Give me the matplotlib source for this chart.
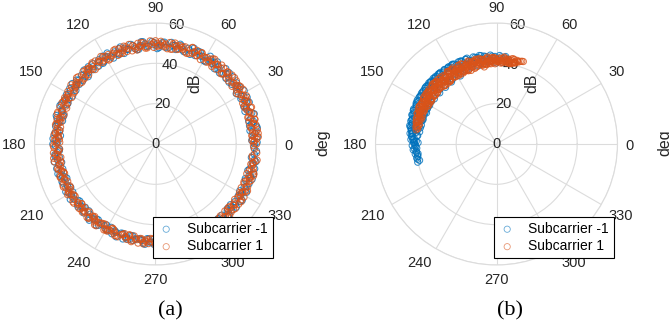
import matplotlib
matplotlib.use("Agg")
import matplotlib.pyplot as plt
import numpy as np

plt.rcParams['font.family'] = ['Liberation Sans', 'DejaVu Sans']

# ---------------- data (degrees, dB) ----------------
A_BLUE_TH = [
    0, 2, 4, 7, 9, 11, 13, 15, 18, 20,
    22, 24, 26, 28, 31, 33, 35, 37, 40, 42,
    44, 46, 48, 51, 53, 55, 57, 59, 62, 64,
    66, 68, 70, 73, 75, 77, 79, 81, 84, 86,
    88, 90, 92, 95, 97, 99, 101, 103, 106, 108,
    110, 112, 114, 117, 119, 121, 123, 125, 128, 130,
    132, 134, 136, 139, 141, 143, 145, 147, 150, 152,
    154, 156, 158, 161, 163, 165, 167, 169, 172, 174,
    176, 178, 180, 183, 185, 187, 189, 191, 194, 196,
    198, 200, 202, 205, 207, 209, 211, 213, 216, 218,
    220, 222, 224, 227, 229, 231, 233, 235, 238, 240,
    242, 244, 246, 249, 251, 253, 255, 257, 260, 262,
    264, 266, 268, 271, 273, 275, 277, 279, 282, 284,
    286, 288, 290, 293, 295, 297, 299, 301, 304, 306,
    308, 310, 312, 315, 317, 319, 321, 323, 326, 328,
    330, 332, 334, 337, 339, 341, 343, 345, 348, 350,
    352, 354, 356, 358]
A_BLUE_R = [
    49.2, 47.8, 50.6, 48.4, 51.1, 47.5, 49.9, 48.9, 50.2, 47.2,
    48.6, 50.9, 49.4, 47.9, 51.3, 48.1, 49.7, 50.4, 47.6, 49.0,
    50.8, 48.3, 47.4, 49.6, 51.0, 48.7, 50.1, 47.7, 49.3, 50.7,
    48.0, 51.2, 49.5, 47.9, 50.3, 48.5, 49.8, 51.0, 48.2, 50.5,
    47.8, 49.1, 50.9, 48.6, 51.1, 49.4, 47.6, 50.2, 48.8, 49.9,
    51.2, 47.9, 50.0, 48.4, 49.6, 50.8, 47.7, 49.2, 50.5, 48.1,
    49.7, 51.0, 48.3, 47.8, 50.4, 49.0, 48.6, 50.7, 47.5, 49.5,
    50.1, 48.0, 51.1, 49.3, 47.6, 50.6, 48.7, 49.8, 47.9, 50.3,
    48.2, 49.4, 50.9, 47.7, 48.8, 50.2, 49.1, 47.4, 50.5, 48.5,
    49.9, 47.8, 50.0, 48.3, 47.2, 49.6, 48.6, 50.4, 47.5, 49.0,
    48.1, 46.9, 49.3, 47.6, 50.1, 48.4, 47.1, 49.2, 47.8, 48.9,
    46.8, 49.5, 48.0, 47.3, 49.8, 48.6, 47.0, 49.1, 47.7, 48.3,
    50.0, 47.2, 48.8, 49.4, 47.5, 48.2, 50.2, 46.9, 49.0, 48.5,
    47.4, 49.7, 48.1, 50.3, 47.6, 49.2, 48.7, 50.6, 47.9, 49.4,
    50.8, 48.3, 49.9, 51.0, 48.6, 50.1, 47.8, 49.6, 50.7, 48.4,
    49.1, 51.1, 48.9, 50.4, 47.7, 49.8, 50.9, 48.2, 49.5, 50.6,
    48.0, 49.3, 50.2, 48.8]
A_BLUE_TH2 = [
    1, 3, 6, 8, 10, 12, 14, 17, 19, 21,
    23, 25, 27, 29, 32, 34, 36, 38, 41, 43,
    45, 47, 50, 52, 54, 56, 58, 60, 63, 65,
    67, 69, 71, 74, 76, 78, 80, 82, 85, 87,
    89, 91, 94, 96, 98, 100, 102, 104, 107, 109,
    111, 113, 116, 118, 120, 122, 124, 126, 129, 131,
    133, 135, 137, 140, 142, 144, 146, 148, 151, 153,
    155, 157, 160, 162, 164, 166, 168, 170, 173, 175,
    177, 179, 181, 184, 186, 188, 190, 192, 195, 197,
    199, 201, 203, 206, 208, 210, 212, 214, 217, 219,
    221, 223, 225, 228, 230, 232, 234, 236, 239, 241,
    243, 245, 247, 250, 252, 254, 256, 258, 261, 263,
    265, 267, 269, 272, 274, 276, 278, 280, 283, 285,
    287, 289, 291, 294, 296, 298, 300, 302, 305, 307,
    309, 311, 313, 316, 318, 320, 322, 324, 327, 329,
    331, 333, 335, 338, 340, 342, 344, 346, 349, 351]
A_BLUE_R2 = [
    50.4, 48.1, 49.7, 47.3, 50.9, 48.8, 47.6, 51.2, 49.0, 48.3,
    47.5, 49.8, 51.0, 48.6, 47.2, 50.5, 49.3, 48.0, 50.8, 47.7,
    49.5, 51.1, 48.2, 47.4, 50.0, 49.1, 51.3, 47.8, 48.9, 50.6,
    49.4, 47.6, 50.2, 48.5, 51.0, 47.9, 49.6, 48.4, 50.7, 49.2,
    47.3, 50.3, 48.7, 49.9, 51.2, 47.7, 48.3, 50.9, 49.0, 47.5,
    50.6, 48.9, 47.4, 51.1, 49.7, 48.1, 50.4, 47.8, 49.3, 50.8,
    48.6, 47.2, 50.1, 49.5, 48.0, 51.0, 47.6, 49.8, 50.5, 48.4,
    47.9, 50.7, 49.1, 48.2, 51.2, 47.5, 49.4, 50.3, 48.8, 47.3,
    50.9, 48.5, 49.6, 47.8, 50.2, 48.0, 51.0, 49.2, 47.6, 50.6,
    48.7, 47.1, 49.8, 48.3, 50.4, 47.4, 49.0, 48.6, 47.0, 49.5,
    47.7, 48.9, 46.8, 49.4, 48.2, 47.3, 49.9, 48.0, 46.9, 49.1,
    48.5, 47.5, 50.0, 47.2, 48.7, 49.3, 46.9, 48.4, 47.8, 49.6,
    47.1, 48.8, 49.7, 47.4, 48.1, 46.8, 49.2, 48.6, 47.6, 50.1,
    48.3, 47.0, 49.5, 48.9, 47.3, 49.8, 48.0, 47.7, 50.3, 48.5,
    49.9, 51.1, 48.2, 50.5, 47.9, 49.0, 50.9, 48.6, 51.3, 49.4,
    47.8, 50.2, 49.6, 48.1, 51.0, 49.3, 47.6, 50.7, 48.8, 49.7]

A_ORANGE_TH = [
    1, 3, 5, 6, 8, 10, 12, 14, 16, 19,
    21, 23, 25, 27, 30, 32, 34, 36, 38, 41,
    43, 45, 47, 50, 52, 54, 56, 58, 61, 63,
    65, 67, 69, 72, 74, 76, 78, 80, 83, 85,
    87, 89, 91, 94, 96, 98, 100, 102, 105, 107,
    109, 111, 113, 116, 118, 120, 122, 124, 127, 129,
    131, 133, 135, 138, 140, 142, 144, 146, 149, 151,
    153, 155, 157, 160, 162, 164, 166, 168, 171, 173,
    175, 177, 179, 182, 184, 186, 188, 190, 193, 195,
    197, 199, 201, 204, 206, 208, 210, 212, 215, 217,
    219, 221, 223, 226, 228, 230, 232, 234, 237, 239,
    241, 243, 245, 248, 250, 252, 254, 256, 259, 261,
    263, 265, 267, 270, 272, 274, 276, 278, 281, 283,
    285, 287, 289, 292, 294, 296, 298, 300, 303, 305,
    307, 309, 311, 314, 316, 318, 320, 322, 325, 327,
    329, 331, 333, 336, 338, 340, 342, 344, 347, 349,
    351, 353, 355, 357, 359]
A_ORANGE_R = [
    48.7, 50.3, 47.9, 49.6, 51.0, 48.2, 49.9, 50.7, 47.6, 49.3,
    50.5, 48.8, 47.7, 50.1, 49.0, 51.2, 48.4, 49.7, 50.9, 47.8,
    49.4, 50.6, 48.1, 51.1, 49.8, 47.5, 50.2, 48.9, 49.5, 50.8,
    48.3, 49.1, 51.3, 47.9, 50.0, 48.6, 49.8, 50.4, 47.6, 49.2,
    51.0, 48.5, 50.3, 49.7, 47.8, 50.9, 48.7, 49.3, 51.1, 48.0,
    49.9, 50.6, 47.7, 49.0, 50.2, 48.4, 51.2, 49.6, 47.9, 50.5,
    48.8, 49.4, 50.8, 48.1, 47.6, 50.0, 49.2, 48.6, 50.7, 47.5,
    49.8, 50.3, 48.2, 49.5, 51.0, 47.8, 48.9, 50.1, 49.3, 48.0,
    50.6, 47.7, 49.1, 50.4, 48.5, 49.7, 47.4, 50.9, 48.3, 49.0,
    47.6, 49.8, 48.4, 50.2, 47.3, 48.9, 49.5, 47.8, 50.0, 48.1,
    47.0, 49.2, 48.6, 46.9, 49.7, 47.5, 48.2, 50.1, 47.2, 48.8,
    49.4, 46.8, 48.0, 49.6, 47.6, 48.5, 47.1, 49.9, 48.3, 47.4,
    49.0, 48.7, 46.9, 50.2, 47.8, 49.3, 48.1, 47.3, 49.8, 48.6,
    50.4, 47.7, 49.1, 48.4, 50.7, 47.9, 49.6, 48.8, 50.3, 49.2,
    47.8, 50.9, 48.5, 49.9, 51.1, 48.2, 50.5, 49.4, 47.9, 50.8,
    48.7, 49.5, 51.2, 48.0, 50.1, 49.7, 47.6, 50.6, 48.9, 49.3,
    51.0, 48.3, 50.4, 49.1, 48.6]
A_ORANGE_TH2 = [
    0, 2, 4, 6, 9, 11, 13, 15, 17, 20,
    22, 24, 26, 28, 31, 33, 35, 37, 39, 42,
    44, 46, 48, 51, 53, 55, 57, 59, 62, 64,
    66, 68, 70, 73, 75, 77, 79, 81, 84, 86,
    88, 90, 92, 95, 97, 99, 101, 103, 106, 108,
    110, 112, 114, 117, 119, 121, 123, 125, 128, 130,
    132, 134, 136, 139, 141, 143, 145, 147, 150, 152,
    154, 156, 158, 161, 163, 165, 167, 169, 172, 174,
    176, 178, 180, 183, 185, 187, 189, 191, 194, 196,
    198, 200, 202, 205, 207, 209, 211, 213, 216, 218,
    220, 222, 224, 227, 229, 231, 233, 235, 238, 240,
    242, 244, 246, 249, 251, 253, 255, 257, 260, 262,
    264, 266, 268, 271, 273, 275, 277, 279, 282, 284,
    286, 288, 290, 293, 295, 297, 299, 301, 304, 306,
    308, 310, 312, 315, 317, 319, 321, 323, 326, 328,
    330, 332, 334, 337, 339, 341, 343, 345, 348, 350]
A_ORANGE_R2 = [
    50.1, 47.9, 49.4, 51.2, 48.3, 50.6, 47.6, 49.0, 50.9, 48.5,
    47.8, 50.3, 49.1, 51.0, 48.0, 49.7, 50.5, 47.5, 48.8, 51.1,
    49.9, 48.2, 50.7, 47.7, 49.5, 51.3, 48.6, 50.0, 47.4, 49.2,
    50.8, 48.4, 47.9, 50.4, 49.6, 48.1, 51.0, 47.6, 49.8, 50.2,
    48.7, 51.2, 49.3, 47.8, 50.6, 48.9, 47.5, 50.1, 49.4, 51.0,
    47.9, 48.5, 50.9, 49.0, 47.6, 50.4, 48.2, 49.7, 51.1, 48.6,
    50.3, 47.7, 49.5, 50.8, 48.0, 49.2, 51.2, 47.8, 50.0, 48.4,
    49.6, 50.7, 47.5, 48.9, 51.0, 49.3, 48.1, 50.5, 47.9, 49.8,
    48.3, 50.2, 49.0, 47.6, 50.8, 48.7, 49.4, 47.7, 50.1, 48.5,
    47.4, 49.9, 48.2, 50.4, 47.3, 49.1, 48.8, 47.5, 50.0, 48.4,
    49.6, 47.1, 48.6, 49.8, 47.4, 48.0, 50.2, 47.8, 46.9, 49.3,
    48.5, 47.2, 49.7, 48.1, 47.0, 49.4, 48.8, 46.8, 49.9, 47.6,
    48.3, 49.5, 47.3, 48.9, 50.1, 47.7, 48.2, 49.2, 46.9, 48.7,
    47.9, 50.3, 48.4, 49.0, 47.6, 50.5, 48.6, 49.7, 47.8, 50.0,
    49.2, 51.1, 48.0, 50.6, 49.5, 47.9, 50.9, 48.7, 51.2, 49.4,
    48.1, 50.4, 49.8, 47.7, 50.7, 48.9, 51.0, 49.1, 48.3, 50.2]
A_ORANGE_TH3 = [
    2, 4, 5, 7, 10, 12, 14, 16, 18, 21,
    23, 25, 27, 29, 32, 34, 36, 38, 40, 43,
    45, 47, 49, 52, 54, 56, 58, 60, 63, 65,
    67, 69, 71, 74, 76, 78, 80, 82, 85, 87,
    89, 91, 93, 96, 98, 100, 102, 104, 107, 109,
    111, 113, 115, 118, 120, 122, 124, 126, 129, 131,
    133, 135, 137, 140, 142, 144, 146, 148, 151, 153,
    155, 157, 159, 162, 164, 166, 168, 170, 173, 175,
    177, 179, 181, 184, 186, 188, 190, 192, 195, 197,
    199, 201, 203, 206, 208, 210, 212, 214, 217, 219,
    221, 223, 225, 228, 230, 232, 234, 236, 239, 241,
    243, 245, 247, 250, 252, 254, 256, 258, 261, 263,
    265, 267, 269, 272, 274, 276, 278, 280, 283, 285,
    287, 289, 291, 294, 296, 298, 300, 302, 305, 307,
    309, 311, 313, 316, 318, 320, 322, 324, 327, 329,
    331, 333, 335, 338, 340, 342, 344, 346, 349, 352]
A_ORANGE_R3 = [
    49.0, 51.1, 48.4, 50.2, 47.7, 49.6, 50.8, 48.1, 49.3, 51.0,
    47.9, 50.5, 48.6, 49.8, 47.4, 50.9, 48.8, 49.2, 51.2, 48.0,
    50.4, 47.6, 49.7, 50.1, 48.5, 51.0, 47.8, 49.4, 50.6, 48.3,
    49.9, 51.1, 47.5, 48.9, 50.3, 49.5, 47.7, 50.8, 48.4, 49.1,
    50.0, 47.9, 51.2, 48.6, 49.4, 50.7, 48.2, 47.6, 50.4, 49.0,
    48.1, 51.0, 49.6, 47.8, 50.2, 48.7, 49.3, 50.9, 47.5, 49.9,
    50.5, 48.3, 47.9, 51.1, 49.2, 48.5, 50.1, 47.7, 49.7, 50.6,
    48.0, 49.4, 50.8, 47.6, 48.8, 50.3, 49.1, 47.8, 50.0, 48.6,
    49.5, 47.5, 50.7, 48.2, 49.0, 51.0, 47.9, 48.7, 49.8, 47.6,
    50.1, 48.4, 47.3, 49.5, 48.0, 50.3, 47.7, 49.1, 48.5, 47.2,
    48.3, 49.6, 47.5, 48.8, 46.9, 49.0, 48.2, 47.4, 49.7, 48.6,
    47.1, 48.9, 49.5, 47.7, 48.4, 46.8, 49.3, 47.9, 48.1, 49.9,
    47.6, 48.5, 47.0, 49.2, 48.8, 47.3, 48.0, 49.8, 47.5, 48.7,
    49.4, 47.9, 50.2, 48.3, 49.1, 47.6, 50.0, 48.9, 49.5, 50.6,
    48.4, 51.0, 49.7, 47.8, 50.5, 48.1, 49.2, 50.9, 48.6, 51.2,
    49.0, 47.7, 50.4, 48.8, 49.6, 51.1, 48.2, 50.0, 49.3, 48.5]

B_BLUE_TH = [
    82, 84, 86, 87, 89, 90, 92, 93, 95, 96,
    98, 99, 100, 102, 103, 104, 106, 107, 108, 110,
    111, 112, 113, 115, 116, 117, 118, 120, 121, 122,
    123, 124, 126, 127, 128, 129, 130, 131, 133, 134,
    135, 136, 137, 138, 139, 140, 141, 143, 144, 145,
    146, 147, 148, 149, 150, 151, 152, 153, 154, 155,
    156, 157, 158, 159, 160, 161, 162, 163, 164, 165,
    166, 167, 168, 169, 170, 171, 172, 173, 174, 175,
    176, 177, 178, 179, 180, 181, 182, 183, 184, 186,
    187, 188, 190, 191, 193,
    101, 109, 119, 125, 132, 142, 147, 153, 158, 163,
    168, 173, 177, 179, 171, 166, 161, 156, 151, 138]
B_BLUE_R = [
    41.5, 42.8, 40.6, 43.2, 41.9, 40.2, 42.5, 43.6, 41.0, 42.1,
    44.0, 40.4, 42.9, 43.8, 39.8, 44.3, 41.6, 43.1, 40.0, 44.6,
    42.3, 39.5, 44.8, 41.2, 43.7, 39.2, 44.9, 42.0, 40.1, 45.0,
    43.4, 38.9, 44.7, 41.8, 39.6, 45.1, 42.6, 38.8, 44.5, 40.7,
    43.9, 39.0, 45.0, 41.4, 38.7, 44.4, 42.2, 39.3, 44.8, 40.5,
    43.5, 38.8, 44.6, 41.1, 39.4, 44.9, 42.4, 38.6, 44.2, 40.3,
    43.8, 39.1, 44.5, 41.7, 38.9, 44.1, 42.7, 39.5, 43.6, 40.8,
    42.9, 39.2, 43.4, 41.3, 39.7, 42.6, 40.4, 41.9, 39.6, 42.3,
    40.9, 41.6, 39.8, 41.2, 40.5, 41.8, 40.0, 40.9, 41.4, 39.9,
    40.6, 39.5, 40.2, 39.8, 40.1,
    44.7, 45.0, 45.2, 44.9, 45.1, 45.0, 38.6, 38.5, 38.7, 38.8,
    44.0, 43.2, 42.5, 38.9, 38.6, 38.4, 38.5, 38.7, 38.6, 45.2]
B_BLUE_TH2 = [
    84, 88, 91, 94, 97, 100, 103, 105, 108, 110,
    113, 115, 117, 119, 121, 123, 125, 127, 129, 131,
    133, 135, 137, 139, 141, 143, 145, 147, 149, 151,
    153, 155, 157, 159, 161, 163, 165, 167, 169, 171,
    173, 175, 177, 179, 181, 183, 185, 187, 189, 192,
    114, 122, 128, 134, 140, 146, 152, 158, 164, 170,
    118, 126, 132, 138, 144, 150, 156, 162, 168, 174,
    120, 130, 136, 142, 148, 154, 160, 166, 172, 178]
B_BLUE_R2 = [
    43.6, 43.9, 43.4, 44.2, 43.7, 44.5, 43.9, 44.7, 43.6, 44.8,
    44.4, 44.9, 44.0, 45.0, 44.5, 44.8, 45.1, 44.2, 44.9, 44.6,
    45.0, 44.3, 44.9, 44.6, 45.1, 44.2, 44.9, 44.5, 44.8, 44.1,
    44.7, 43.9, 44.6, 43.7, 44.4, 43.4, 44.0, 43.0, 43.5, 42.8,
    42.4, 41.9, 41.2, 40.8, 40.3, 39.6, 40.0, 39.2, 39.5, 39.0,
    44.8, 45.0, 45.1, 45.2, 45.0, 44.9, 44.6, 44.2, 43.7, 42.9,
    38.2, 38.0, 37.8, 37.9, 38.1, 38.3, 38.0, 38.4, 38.6, 39.3,
    44.9, 45.1, 45.0, 44.9, 44.7, 44.3, 43.9, 43.2, 42.0, 40.6]

B_ORANGE_TH = [
    72, 74, 76, 77, 78, 79, 80, 81, 82, 83,
    84, 85, 86, 87, 88, 89, 90, 91, 92, 93,
    94, 95, 96, 97, 98, 99, 100, 101, 102, 103,
    104, 105, 106, 107, 108, 109, 110, 111, 112, 113,
    114, 115, 116, 117, 118, 119, 120, 121, 122, 123,
    124, 125, 126, 127, 128, 129, 130, 131, 132, 133,
    134, 135, 136, 137, 138, 139, 140, 141, 142, 143,
    144, 145, 146, 147, 148, 149, 150, 151, 152, 153,
    154, 155, 156, 157, 158, 159, 160, 161, 162, 163,
    164, 165, 166, 167, 168, 169, 170,
    80, 85, 90, 95, 100, 105, 110, 115, 120, 125,
    130, 135, 140, 145, 150, 155, 160, 83, 93, 103,
    113, 123, 133, 143, 153, 88, 98, 108, 118, 128,
    138, 148, 158]
B_ORANGE_R = [
    43.0, 42.6, 42.2, 41.4, 42.8, 40.9, 42.0, 41.2, 42.5, 40.6,
    41.8, 42.9, 40.4, 41.6, 42.3, 40.8, 41.9, 42.7, 40.3, 41.5,
    42.4, 40.1, 41.3, 42.8, 39.9, 41.7, 42.6, 40.2, 41.1, 43.0,
    39.7, 41.9, 42.5, 40.0, 41.4, 43.1, 39.5, 42.2, 40.6, 42.9,
    39.3, 41.6, 43.2, 40.1, 42.0, 39.2, 42.7, 41.0, 39.6, 43.1,
    40.4, 42.3, 39.1, 41.8, 43.0, 39.8, 41.2, 42.6, 39.0, 42.1,
    40.7, 43.2, 39.4, 41.5, 42.8, 39.0, 41.9, 40.3, 42.5, 39.3,
    41.1, 42.9, 39.5, 40.8, 42.3, 39.2, 41.6, 42.0, 39.7, 41.0,
    42.4, 39.4, 40.9, 41.8, 39.6, 42.0, 40.5, 41.2, 39.3, 41.5,
    40.2, 41.0, 39.5, 40.7, 40.0, 39.8, 40.4,
    40.5, 41.2, 40.8, 41.6, 40.0, 42.0, 40.9, 39.8, 41.4, 40.6,
    41.1, 39.9, 40.7, 41.3, 40.2, 40.8, 40.6, 42.1, 41.0, 40.5,
    41.7, 39.6, 40.4, 42.2, 39.9, 41.3, 40.3, 42.4, 39.9, 41.5,
    40.1, 42.6, 41.2]
B_ORANGE_TH2 = [
    76, 78, 79, 81, 82, 84, 85, 87, 88, 90,
    91, 93, 94, 96, 97, 99, 100, 102, 103, 105,
    106, 108, 109, 111, 112, 114, 115, 117, 118, 120,
    121, 123, 124, 126, 127, 129, 130, 132, 133, 135,
    136, 138, 139, 141, 142, 144, 145, 147, 148, 150,
    151, 153, 154, 156, 157, 159, 160, 162, 163, 165,
    166, 168,
    99, 104, 109, 114, 119, 124, 129, 134, 139, 144,
    149, 154, 101, 111, 121, 131, 141, 151, 96, 106,
    116, 126, 136, 146, 156, 92, 117, 137, 122, 142,
    127, 132, 147, 152, 107, 112]
B_ORANGE_R2 = [
    42.7, 41.3, 43.1, 40.5, 42.2, 41.0, 43.3, 40.2, 42.6, 41.7,
    39.8, 42.9, 41.1, 43.4, 40.0, 42.4, 39.6, 43.2, 41.5, 39.4,
    42.8, 40.7, 43.5, 39.2, 41.9, 43.3, 38.9, 42.1, 40.3, 43.6,
    39.0, 41.6, 43.4, 38.8, 42.5, 40.1, 43.2, 38.7, 41.8, 42.9,
    39.3, 43.1, 40.6, 38.8, 42.7, 41.2, 39.1, 43.0, 40.4, 42.3,
    38.9, 41.4, 42.6, 39.5, 40.8, 42.2, 39.2, 41.7, 40.0, 41.3,
    39.6, 40.9,
    38.7, 43.3, 38.6, 43.5, 38.8, 43.4, 38.6, 43.2, 38.9, 42.9,
    38.7, 42.6, 43.0, 38.9, 43.3, 38.5, 43.1, 38.8, 42.8, 39.0,
    43.4, 38.6, 43.2, 38.7, 42.5, 43.0, 38.9, 43.6, 39.1, 38.8,
    38.6, 43.3, 38.7, 42.4, 41.0, 40.5]
B_ORANGE_TH3 = [
    73, 75, 78, 80, 83, 86, 89, 92, 95, 98,
    101, 104, 107, 110, 113, 116, 119, 122, 125, 128,
    131, 134, 137, 140, 143, 146, 149, 152, 155, 158,
    161, 164, 167,
    77, 81, 87, 91, 97, 102, 106, 112, 117, 121,
    126, 131, 136, 141, 146, 151, 156, 161,
    84, 94, 104, 114, 124, 134, 144, 154,
    79, 89, 99, 109, 119, 129, 139, 149, 159,
    82, 100, 118, 136, 154, 110, 130, 150]
B_ORANGE_R3 = [
    42.9, 42.1, 41.6, 42.8, 41.4, 42.5, 41.0, 42.6, 40.7, 42.3,
    40.4, 42.0, 40.0, 42.7, 39.8, 41.8, 40.2, 42.9, 39.6, 41.9,
    40.1, 42.8, 39.5, 41.7, 42.6, 39.4, 41.5, 42.2, 39.8, 41.3,
    40.4, 41.0, 39.9,
    41.2, 40.5, 40.9, 42.0, 39.6, 41.3, 42.4, 39.4, 41.1, 43.0,
    39.3, 41.6, 43.1, 39.2, 41.8, 40.0, 42.0, 39.7,
    42.2, 39.9, 42.9, 39.5, 43.0, 39.2, 42.6, 39.9,
    40.8, 41.4, 42.0, 41.6, 41.9, 40.6, 41.3, 40.5, 40.9,
    40.9, 41.0, 40.7, 40.6, 40.8, 41.5, 41.7, 41.2]

SERIES_LABELS = ["Subcarrier -1", "Subcarrier 1"]
THETA_TICKS = [0, 30, 60, 90, 120, 150, 180, 210, 240, 270, 300, 330]
R_TICKS = [0, 20, 40, 60]
CAPTIONS = ["(a)", "(b)"]

BLUE = "#0072BD"
ORANGE = "#D95319"
GRID = "#dcdcdc"
TXT = "#262626"

W, H = 669, 329
fig = plt.figure(figsize=(W / 100, H / 100), dpi=100)

panels = [
    dict(cx=155.5, cy=144,
         blue=(A_BLUE_TH + A_BLUE_TH2, A_BLUE_R + A_BLUE_R2),
         orange=(A_ORANGE_TH + A_ORANGE_TH2 + A_ORANGE_TH3,
                 A_ORANGE_R + A_ORANGE_R2 + A_ORANGE_R3),
         leg=(153, 217), cap=(170, 311), db=(195, 83), deg=315),
    dict(cx=496.5, cy=144,
         blue=(B_BLUE_TH + B_BLUE_TH2, B_BLUE_R + B_BLUE_R2),
         orange=(B_ORANGE_TH + B_ORANGE_TH2 + B_ORANGE_TH3,
                 B_ORANGE_R + B_ORANGE_R2 + B_ORANGE_R3),
         leg=(494, 217), cap=(510, 311), db=(532, 83), deg=657),
]
R = 121

for i, p in enumerate(panels):
    ax = fig.add_axes([(p['cx'] - R) / W, (H - p['cy'] - R) / H, 2 * R / W, 2 * R / H],
                      projection='polar')
    bt, br = p['blue']
    ot, orr = p['orange']
    h1 = ax.scatter(np.deg2rad(bt), br, s=20, facecolors='none', edgecolors=BLUE,
                    linewidths=0.75, alpha=0.8, label=SERIES_LABELS[0], zorder=3)
    h2 = ax.scatter(np.deg2rad(ot), orr, s=20, facecolors='none', edgecolors=ORANGE,
                    linewidths=0.75, alpha=0.8, label=SERIES_LABELS[1], zorder=4)
    ax.set_ylim(0, 60)
    ax.set_yticks(R_TICKS)
    ax.set_yticklabels([str(v) for v in R_TICKS])
    ax.set_xticks(np.deg2rad(THETA_TICKS))
    ax.set_xticklabels([])
    ax.set_rlabel_position(80)
    ax.grid(True, color=GRID, linewidth=0.8)
    ax.spines['polar'].set_color(GRID)
    ax.spines['polar'].set_linewidth(0.8)
    ax.tick_params(axis='y', labelsize=10.5, colors=TXT)
    for lbl in ax.get_yticklabels():
        lbl.set_horizontalalignment('center')
        lbl.set_verticalalignment('center')
    ax.set_axisbelow(True)

    # theta tick labels, edge-aligned just outside the outer circle
    for t in THETA_TICKS:
        c, s = np.cos(np.deg2rad(t)), np.sin(np.deg2rad(t))
        ha = 'left' if c > 0.01 else ('right' if c < -0.01 else 'center')
        va = 'bottom' if s > 0.01 else ('top' if s < -0.01 else 'center_baseline')
        ax.annotate(str(t), xy=(np.deg2rad(t), 60), xycoords='data',
                    xytext=(6 * c, 6 * s), textcoords='offset points',
                    ha=ha, va=va, fontsize=10.5, color=TXT, annotation_clip=False)

    lx, ly = p['leg']
    leg = ax.legend(handles=[h1, h2], loc='upper left',
                    bbox_to_anchor=(lx / W, 1 - ly / H),
                    bbox_transform=fig.transFigure, borderaxespad=0, fontsize=10,
                    frameon=True, fancybox=False, framealpha=1, edgecolor='black',
                    scatterpoints=1, handlelength=1.2, handletextpad=0.9,
                    borderpad=0.35, labelspacing=0.25)
    leg.get_frame().set_linewidth(0.8)
    for lh in leg.legend_handles:
        lh.set_alpha(0.6)
        lh.set_linewidth(0.6)

    fig.text(p['db'][0] / W, 1 - p['db'][1] / H, "dB", rotation=90, fontsize=11.5,
             color=TXT, ha='center', va='center')
    fig.text(p['deg'] / W, 1 - 143 / H, "deg", rotation=90, fontsize=11.5,
             color=TXT, ha='left', va='center')
    fig.text(p['cap'][0] / W, 1 - p['cap'][1] / H, CAPTIONS[i], fontsize=16,
             family='Liberation Serif', ha='center', va='center', color='black')

fig.savefig("out.png", dpi=100)
